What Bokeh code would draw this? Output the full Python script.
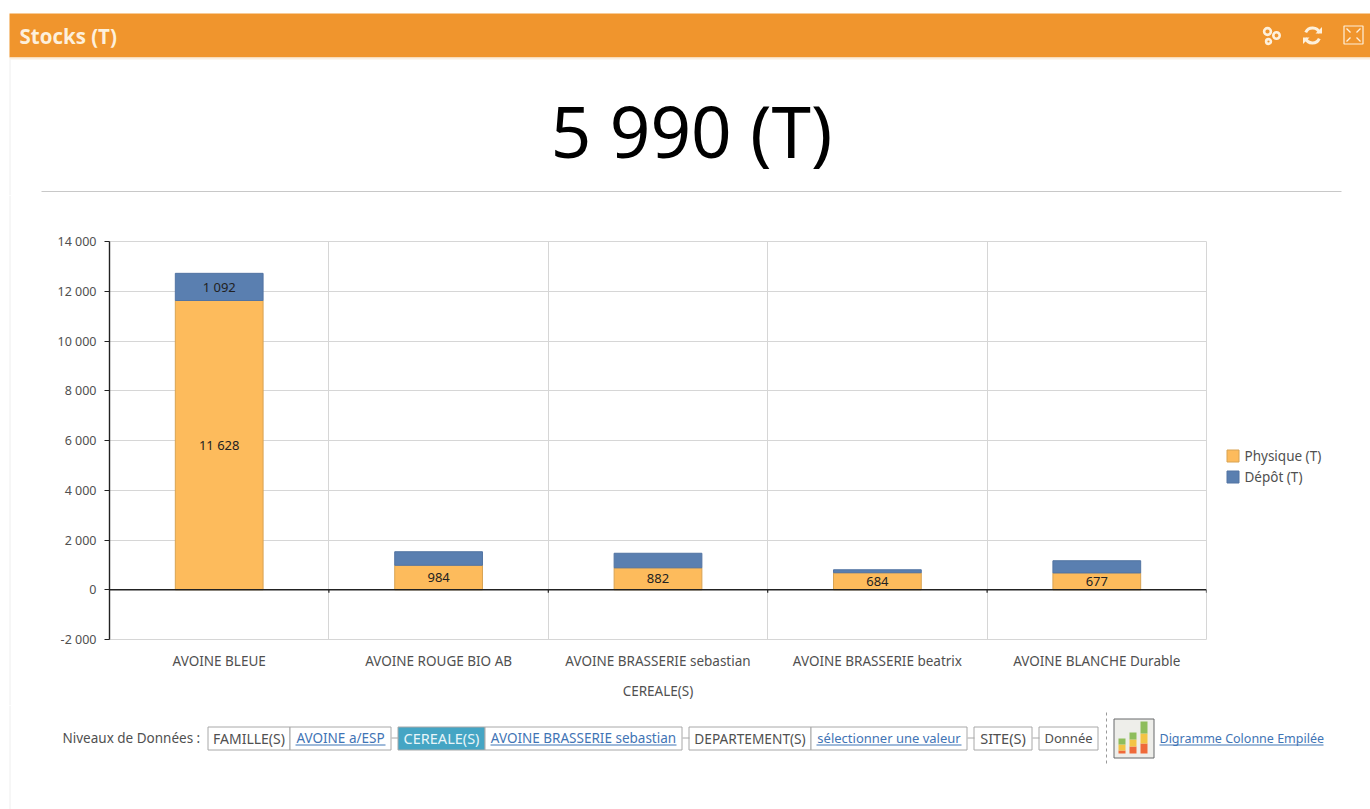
from bokeh.plotting import figure
from bokeh.layouts import column, row
from bokeh.models import Range1d, FixedTicker, Span, ColumnDataSource, LinearAxis, Grid
from bokeh.core.properties import value
from bokeh.embed import file_html
from bokeh.resources import INLINE
import numpy as np

categories = ["AVOINE BLEUE", "AVOINE ROUGE BIO AB", "AVOINE BRASSERIE sebastian",
              "AVOINE BRASSERIE beatrix", "AVOINE BLANCHE Durable"]
physique = [11628, 984, 882, 684, 677]
depot = [1092, 544, 585, 120, 489]
physique_labels = ["11 628", "984", "882", "684", "677"]
depot_labels = ["1 092", "", "", "", ""]
y_ticks = [-2000, 0, 2000, 4000, 6000, 8000, 10000, 12000, 14000]
y_tick_labels = ["-2 000", "0", "2 000", "4 000", "6 000", "8 000", "10 000", "12 000", "14 000"]
series_names = ["Physique (T)", "Dépôt (T)"]
series_fill = ["#fdbb5c", "#5a7fb0"]
series_line = ["#d8a353", "#5274a3"]
panel_title = "Stocks (T)"
kpi_text = "5 990 (T)"
axis_title = "CEREALE(S)"

FONT = "Noto Sans"
TXT = "#505050"
LINK = "#3f74b5"
ORANGE = "#f0952d"
CREAM = "#fdf0dc"
W = 1370
STRIP_R = 20
CHART_R = 1207


def chrome(left, right, top, bottom):
    f = figure(width=right - left, height=bottom - top, output_backend="svg", toolbar_location=None,
               x_range=Range1d(left, right), y_range=Range1d(bottom, top),
               x_axis_type=None, y_axis_type=None, min_border=0, outline_line_color=None,
               frame_align=False)
    f.grid.visible = False
    return f


def label(f, x, y, s, size, color=TXT, align="left", font=FONT, style="normal"):
    f.text([x], [y], text=[s], text_font=value(font), text_font_size=f"{size}px",
           text_color=color, text_align=align, text_baseline="middle", text_font_style=style)


# ---------- header ----------
top = chrome(0, W, 0, 195)
top.quad(left=[9], right=[W], top=[13], bottom=[57], fill_color=ORANGE, line_color=None)
top.quad(left=[9], right=[W], top=[57], bottom=[59], fill_color="#fbeedd", line_color=None)
top.segment([9.5], [59], [9.5], [195], line_color="#eeeeee", line_width=1)
label(top, 19, 35, panel_title, 20.5, CREAM, font="Open Sans", style="bold")
label(top, 691, 130, kpi_text, 71, "#000000", "center", font="Noto Sans")
top.segment([41], [191], [1341], [191], line_color="#c8c8c8", line_width=1)
# gears
top.circle(x=[1267, 1276, 1268], y=[31, 35, 41], radius=[3.4, 3.2, 2.4], fill_color=None,
           line_color=CREAM, line_width=2.6)
# refresh
top.annular_wedge(x=[1312, 1312], y=[35, 35], inner_radius=6, outer_radius=9,
                  start_angle=[0.35, 3.5], end_angle=[2.7, 5.85], fill_color=CREAM, line_color=None)
top.patch([1315, 1321.5, 1321.5], [33, 33, 26.5], fill_color=CREAM, line_color=None)
top.patch([1302.5, 1309, 1302.5], [37, 37, 43.5], fill_color=CREAM, line_color=None)
# fullscreen
top.quad(left=[1343.5], right=[1362.5], top=[25.5], bottom=[43.5], fill_color=None,
         line_color=CREAM, line_width=1.2)
top.segment([1346, 1360, 1346, 1360], [28, 28, 41, 41], [1350, 1356, 1350, 1356],
            [32, 32, 37, 37], line_color=CREAM, line_width=1.2)

# ---------- left strip ----------
strip = chrome(0, STRIP_R, 195, 705)
strip.segment([9.5], [195], [9.5], [705], line_color="#eeeeee", line_width=1)

# ---------- chart ----------
x = np.arange(len(categories)) + 0.5
phys = np.array(physique, dtype=float)
dep = np.array(depot, dtype=float)
src = ColumnDataSource(dict(x=x, physique=phys, depot=dep, total=phys + dep,
                            pmid=phys / 2, dmid=phys + dep / 2,
                            plab=physique_labels, dlab=depot_labels))

p = figure(width=CHART_R - STRIP_R, height=510, output_backend="svg", toolbar_location=None,
           x_range=Range1d(0, len(categories)), y_range=Range1d(-2000, 14000),
           x_axis_type=None, y_axis_type=None, frame_align=False,
           min_border_left=109 - STRIP_R, min_border_right=1, min_border_top=46, min_border_bottom=66,
           outline_line_color="#d6d6d6")

xa = LinearAxis(ticker=FixedTicker(ticks=list(x)),
                major_label_overrides={float(a): c for a, c in zip(x, categories)},
                axis_line_color=None, major_tick_line_color=None, minor_tick_line_color=None,
                major_tick_in=0, major_tick_out=0,
                major_label_text_font=FONT, major_label_text_font_size="13.5px",
                major_label_text_color=TXT, major_label_standoff=12,
                axis_label=axis_title, axis_label_text_font=FONT, axis_label_text_font_size="13.5px",
                axis_label_text_color=TXT, axis_label_text_font_style="normal", axis_label_standoff=9)
p.add_layout(xa, "below")
ya = LinearAxis(ticker=FixedTicker(ticks=y_ticks),
                major_label_overrides={t: s for t, s in zip(y_ticks, y_tick_labels)},
                axis_line_color="#222222", axis_line_width=1.4,
                major_tick_line_color="#222222", minor_tick_line_color=None,
                major_tick_in=0, major_tick_out=5, major_label_standoff=8,
                major_label_text_font=FONT, major_label_text_font_size="12.5px",
                major_label_text_color=TXT)
p.add_layout(ya, "left")
p.add_layout(Grid(dimension=0, ticker=FixedTicker(ticks=list(range(len(categories) + 1))),
                  grid_line_color="#d6d6d6"))
p.add_layout(Grid(dimension=1, ticker=FixedTicker(ticks=y_ticks), grid_line_color="#d6d6d6"))

p.vbar(x="x", bottom=0, top="physique", width=0.4, source=src,
       fill_color=series_fill[0], line_color=series_line[0])
p.vbar(x="x", bottom="physique", top="total", width=0.4, source=src,
       fill_color=series_fill[1], line_color=series_line[1])

p.add_layout(Span(location=0, dimension="width", line_color="#222222", line_width=1.4))
p.segment(x0=list(range(1, len(categories) + 1)), y0=[0] * len(categories),
          x1=list(range(1, len(categories) + 1)), y1=[-120] * len(categories),
          line_color="#222222", line_width=1.2)

for col_y, col_t in (("pmid", "plab"), ("dmid", "dlab")):
    p.text(x="x", y=col_y, text=col_t, source=src, text_align="center", text_baseline="middle",
           text_font=value(FONT), text_font_size="13px", text_color="#222222")

# ---------- legend column ----------
lg = chrome(CHART_R, W, 195, 705)
for name, fc, lc, yy in zip(series_names, series_fill, series_line, (455.5, 476.5)):
    lg.quad(left=[1226.5], right=[1238.5], top=[yy - 6], bottom=[yy + 6], fill_color=fc, line_color=lc)
    label(lg, 1244, yy, name, 13.5)

# ---------- footer ----------
bot = chrome(0, W, 705, 809)
bot.segment([9.5], [705], [9.5], [809], line_color="#eeeeee", line_width=1)
label(bot, 62, 737.5, "Niveaux de Données :", 13.5)
by0, by1 = 726.5, 749.5
cy = 737.5
boxes = [
    (208, 290, "FAMILLE(S)", False, "#ffffff", 14),
    (290, 391, "AVOINE a/ESP", True, "#ffffff", 13.5),
    (398, 485, "CEREALE(S)", False, "#45a5c4", 14.5),
    (485, 682, "AVOINE BRASSERIE sebastian", True, "#ffffff", 13.5),
    (689, 811, "DEPARTEMENT(S)", False, "#ffffff", 13.7),
    (811, 967, "sélectionner une valeur", True, "#ffffff", 13),
    (974, 1032, "SITE(S)", False, "#ffffff", 14.5),
    (1039, 1098, "Donnée", False, "#ffffff", 13),
]
for l, r, s, is_link, fill, fs in boxes:
    bot.quad(left=[l - .5], right=[r - .5], top=[by0], bottom=[by1], fill_color=fill, line_color="#a8a8a8")
    color = LINK if is_link else ("#e8f5fa" if fill != "#ffffff" else TXT)
    label(bot, (l + r) / 2 - .5, cy, s, fs, color, "center")
    if is_link:
        bot.segment([l + 5], [744.5], [r - 6], [744.5], line_color=LINK)
for a, b in ((391, 398), (682, 689), (967, 974), (1032, 1039)):
    bot.segment([a], [737.5], [b], [737.5], line_color="#a8a8a8")
bot.segment([1106], [712], [1106], [763], line_color="#999999", line_dash="3 3")
# chart-type icon
bot.quad(left=[1113.5], right=[1153.5], top=[718.5], bottom=[757.5], fill_color="#eeeeea", line_color="#66686a")
for bx, h in ((1118, (3, 6, 6)), (1129, (7, 7, 7)), (1140, (10, 10, 12))):
    yb = 753
    for hh, c in zip(h, ("#ef6a3a", "#f3c445", "#8ebd5c")):
        bot.quad(left=[bx], right=[bx + 7], top=[yb - hh], bottom=[yb], fill_color=c, line_color=None)
        yb -= hh
label(bot, 1159, 737.5, "Digramme Colonne Empilée", 12.5, LINK)
bot.segment([1159], [744.5], [1323], [744.5], line_color=LINK)

page = column(top, row(strip, p, lg, spacing=0), bot, spacing=0)
open("out.html", "w").write(file_html(page, INLINE))
